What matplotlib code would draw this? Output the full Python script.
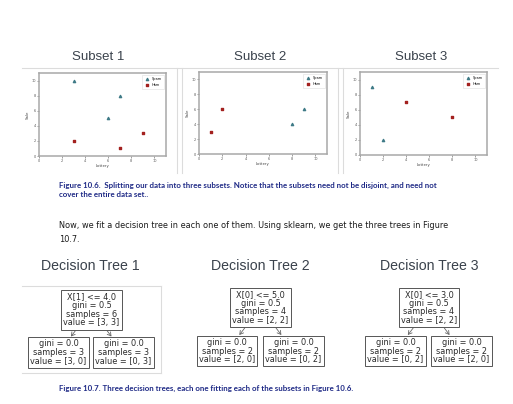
import matplotlib
matplotlib.use('Agg')
import matplotlib.pyplot as plt
from matplotlib.lines import Line2D
from matplotlib.patches import FancyArrowPatch
import numpy as np

W, H = 513, 404

# scatter data for the three subsets
subset_titles = ['Subset 1', 'Subset 2', 'Subset 3']
spam_x = [[3, 7, 6], [8, 9], [1, 2]]
spam_y = [[10, 8, 5], [4, 6], [9, 2]]
ham_x = [[3, 7, 9], [1, 2], [4, 8]]
ham_y = [[2, 1, 3], [3, 6], [7, 5]]
ticks = [0, 2, 4, 6, 8, 10]

# decision trees
tree_titles = ['Decision Tree 1', 'Decision Tree 2', 'Decision Tree 3']
tree_feature = [1, 0, 0]
tree_threshold = [4.0, 5.0, 3.0]
left_values = [[3, 0], [2, 0], [0, 2]]
right_values = [[0, 3], [0, 2], [2, 0]]

caption1 = ('Figure 10.6.  Splitting our data into three subsets. Notice that the subsets need not be disjoint, and need not\n'
            'cover the entire data set..')
paragraph = ('Now, we fit a decision tree in each one of them. Using sklearn, we get the three trees in Figure\n'
             '10.7.')
caption2 = 'Figure 10.7. Three decision trees, each one fitting each of the subsets in Figure 10.6.'


def fx(x):
    return x / W


def fy(y):
    return 1 - y / H


def hline(fig, x0, x1, y, **kw):
    fig.add_artist(Line2D([fx(x0), fx(x1)], [fy(y), fy(y)], transform=fig.transFigure, **kw))


def vline(fig, x, y0, y1, **kw):
    fig.add_artist(Line2D([fx(x), fx(x)], [fy(y0), fy(y1)], transform=fig.transFigure, **kw))


def gini(v):
    p = np.array(v) / sum(v)
    return 1 - np.sum(p ** 2)


def node_text(v, feat=None, thr=None):
    lines = []
    if feat is not None:
        lines.append('X[%d] <= %.1f' % (feat, thr))
    lines.append('gini = %.1f' % gini(v))
    lines.append('samples = %d' % sum(v))
    lines.append('value = [%d, %d]' % (v[0], v[1]))
    return '\n'.join(lines)


fig = plt.figure(figsize=(W / 100, H / 100), dpi=100)
fig.patch.set_facecolor('white')

title_col = '#3a424c'
frame_col = '#dcdcdc'

# panel borders (screenshot frames)
hline(fig, 22, 498, 68, color=frame_col, lw=0.8)
for x in [177, 182, 338, 343]:
    vline(fig, x, 68, 173, color=frame_col, lw=0.8)

axes_px = [(39, 73, 166, 156), (199, 72, 327, 154), (360, 72, 487, 155)]
title_x = [98, 260, 421]

for i in range(3):
    x0, y0, x1, y1 = axes_px[i]
    ax = fig.add_axes([fx(x0), fy(y1), fx(x1 - x0), (y1 - y0) / H])
    ax.scatter(spam_x[i], spam_y[i], marker='^', s=2.5, color='#3e7a86', label='Spam', zorder=3)
    ax.scatter(ham_x[i], ham_y[i], marker='s', s=2.5, color='#a3211f', label='Ham', zorder=3)
    ax.set_xlim(0, 11)
    ax.set_ylim(0, 11)
    ax.set_xticks(ticks)
    ax.set_yticks(ticks)
    ax.tick_params(labelsize=2.5, length=1.2, width=0.4, pad=1, colors='#555555')
    ax.set_xlabel('Lottery', fontsize=2.8, labelpad=1, color='#444444')
    ax.set_ylabel('Sale', fontsize=2.8, labelpad=1, color='#444444')
    for sp in ax.spines.values():
        sp.set_color('#a8a8a8')
        sp.set_linewidth(1.1)
    leg = ax.legend(loc='upper right', fontsize=2.5, markerscale=1.0, handletextpad=0.4,
                    borderpad=0.6, labelspacing=0.5, framealpha=1, edgecolor='#dddddd')
    leg.get_frame().set_linewidth(0.4)
    fig.text(fx(title_x[i]), fy(57), subset_titles[i], ha='center', va='center',
             fontsize=9.5, color=title_col, family='Liberation Sans')

fig.text(fx(59), fy(190), caption1, ha='left', va='center', fontsize=5.7, fontweight='bold',
         color='#1f2a86', family='Lato', linespacing=1.3)
fig.text(fx(59), fy(232.5), paragraph, ha='left', va='center', fontsize=5.9,
         color='#1a1a1a', family='DejaVu Sans', linespacing=1.6)

# trees
tree_title_x = [90, 260, 429]
root_c = [(91.5, 310), (260.5, 307.5), (429, 307.5)]
leaf_l = [(58.5, 352.5), (227, 351), (395.5, 351)]
leaf_r = [(123.5, 352.5), (293.5, 351), (461.5, 351)]

# frame around tree 1 screenshot
hline(fig, 22, 161, 286, color=frame_col, lw=0.8)
hline(fig, 22, 161, 373, color=frame_col, lw=0.8)
vline(fig, 161, 286, 373, color=frame_col, lw=0.8)

box = dict(boxstyle='square,pad=0.25', fc='white', ec='#555555', lw=0.7)
for i in range(3):
    fig.text(fx(tree_title_x[i]), fy(266), tree_titles[i], ha='center', va='center',
             fontsize=10.2, color=title_col, family='Liberation Sans')
    root_v = [left_values[i][k] + right_values[i][k] for k in range(2)]
    rx, ry = root_c[i]
    fig.text(fx(rx), fy(ry), node_text(root_v, tree_feature[i], tree_threshold[i]),
             ha='center', va='center', fontsize=5.9, color='#2a2a2a', bbox=box, linespacing=0.95)
    for (lx, ly), v in [(leaf_l[i], left_values[i]), (leaf_r[i], right_values[i])]:
        fig.text(fx(lx), fy(ly), node_text(v), ha='center', va='center', fontsize=5.9,
                 color='#2a2a2a', bbox=box, linespacing=0.95)
        # short arrow in the gap between boxes, along the parent-child line
        ya, yb = ry + 20.5, ly - 16
        xa = rx + (ya - ry) * (lx - rx) / (ly - ry)
        xb = rx + (yb - ry) * (lx - rx) / (ly - ry)
        fig.add_artist(FancyArrowPatch(
            (fx(xa), fy(ya)), (fx(xb), fy(yb)), transform=fig.transFigure,
            arrowstyle='->,head_length=2.5,head_width=1.5', shrinkA=0, shrinkB=0,
            lw=0.6, color='#666666'))

fig.text(fx(59), fy(388), caption2, ha='left', va='center', fontsize=5.7, fontweight='bold',
         color='#1f2a86', family='Lato')

fig.savefig('out.png', dpi=100)
